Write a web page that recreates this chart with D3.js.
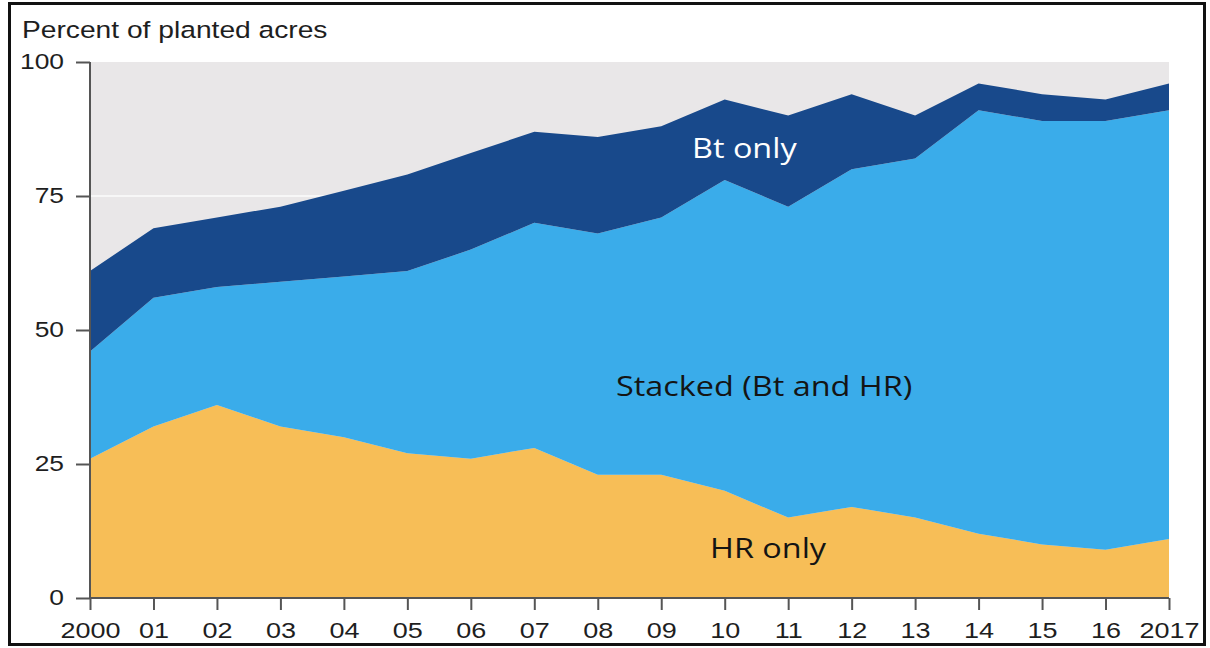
<!DOCTYPE html>
<html>
<head>
<meta charset="utf-8">
<script src="https://cdn.jsdelivr.net/npm/d3@7"></script>
<style>
  html, body { margin: 0; padding: 0; background: #fff; }
  svg { display: block; }
  .tick text { font-family: "Liberation Sans", Arial, sans-serif; fill: #1e1e1e; }
</style>
</head>
<body>
<svg id="chart" width="1210" height="648"></svg>
<script>

// Data: share of planted cotton acres by GE trait
const years = ["2000","01","02","03","04","05","06","07","08","09","10","11","12","13","14","15","16","2017"];
const hrOnly =  [26,32,36,32,30,27,26,28,23,23,20,15,17,15,12,10, 9,11];
const stacked = [20,24,22,27,30,34,39,42,45,48,58,58,63,67,79,79,80,80];
const btOnly =  [15,13,13,14,16,18,18,17,18,17,15,17,14, 8, 5, 5, 4, 5];
const yTicks = [0,25,50,75,100];

const seriesKeys = ["hr","stacked","bt"];
const seriesLabels = ["HR only","Stacked (Bt and HR)","Bt only"];

// Colors
const col_bg = "#e9e7e8",
    col_hr = "#f7be57",
    col_stacked = "#3aacea",
    col_bt = "#18498b",
    col_axis = "#555";

// text in the source image is stretched sideways a bit
const stretch = 1.2;

const svg = d3.select("#chart");

const x0 = 90, x1 = 1169,
    y0 = 598, y1 = 62;

const table = years.map((y,i) => ({year: y, hr: hrOnly[i], stacked: stacked[i], bt: btOnly[i]}));

const x = d3.scalePoint()
    .domain(years)
    .range([x0, x1]);

const y = d3.scaleLinear()
    .domain([0, 100])
    .range([y0, y1]);

// frame around the figure
svg.append("rect")
    .attr("x", 9.5).attr("y", 3.5)
    .attr("width", 1195).attr("height", 641)
    .attr("fill", "none")
    .attr("stroke", "#111")
    .attr("stroke-width", 3);

// plot background
svg.append("rect")
    .attr("x", x0).attr("y", y1)
    .attr("width", x1 - x0).attr("height", y0 - y1)
    .attr("fill", col_bg);

// white gridlines (only the 75 one shows above the areas)
svg.append("g")
    .selectAll("line")
    .data(yTicks.filter(d => d > 0 && d < 100))
    .enter().append("line")
    .attr("x1", x0).attr("x2", x1)
    .attr("y1", d => y(d)).attr("y2", d => y(d))
    .attr("stroke", "#f7f7f7")
    .attr("stroke-width", 2);

// stacked areas
const stack = d3.stack().keys(seriesKeys);
const layers = stack(table);

const area = d3.area()
    .x(d => x(d.data.year))
    .y0(d => y(d[0]))
    .y1(d => y(d[1]));

const fills = {hr: col_hr, stacked: col_stacked, bt: col_bt};

svg.append("g")
    .selectAll("path")
    .data(layers)
    .enter().append("path")
    .attr("d", area)
    .attr("fill", d => fills[d.key]);

// axes
const yAxis = svg.append("g")
    .attr("transform", `translate(${x0},0)`)
    .call(d3.axisLeft(y).tickValues(yTicks).tickSize(14).tickPadding(0));

yAxis.selectAll(".tick text")
    .attr("x", 0).attr("dy", null)
    .attr("dominant-baseline", "middle")
    .attr("font-size", 22)
    .attr("transform", `translate(-26,1) scale(${stretch},1)`);

const xAxis = svg.append("g")
    .attr("transform", `translate(0,${y0})`)
    .call(d3.axisBottom(x).tickSize(12).tickPadding(0));

xAxis.selectAll(".tick text")
    .attr("y", 0).attr("dy", null)
    .attr("font-size", 22.5)
    .attr("transform", `translate(0,40) scale(${stretch},1)`);

svg.selectAll(".domain").attr("stroke", col_axis).attr("stroke-width", 2);
svg.selectAll(".tick line").attr("stroke", col_axis).attr("stroke-width", 2);
xAxis.select(".domain").attr("d", `M${x0},0H${x1}`);
yAxis.select(".domain").attr("d", `M0,${y0}V${y1}`);

// axis title
svg.append("text")
    .attr("transform", `translate(22,38) scale(${stretch},1)`)
    .attr("font-family", "Liberation Sans, Arial, sans-serif")
    .attr("font-size", 23.5)
    .attr("fill", "#1e1e1e")
    .text("Percent of planted acres");

// labels inside the areas
const labelPos = [
    {x: 710, y: 558, color: "#141414"},
    {x: 616, y: 396, color: "#141414"},
    {x: 692, y: 158, color: "#ffffff"}
];

svg.append("g")
    .selectAll("text")
    .data(seriesLabels)
    .enter().append("text")
    .attr("transform", (d,i) => `translate(${labelPos[i].x},${labelPos[i].y}) scale(${stretch},1)`)
    .attr("font-family", "Open Sans, Noto Sans, sans-serif")
    .attr("font-size", 27)
    .attr("fill", (d,i) => labelPos[i].color)
    .text(d => d);

</script>
</body>
</html>
